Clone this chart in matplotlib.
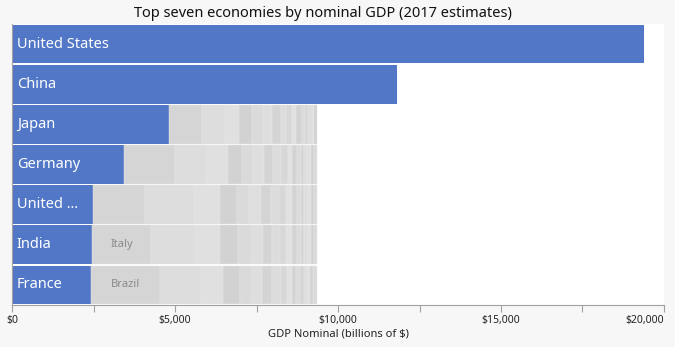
import matplotlib
matplotlib.use('Agg')
import matplotlib.pyplot as plt
from matplotlib.ticker import MultipleLocator

plt.rcParams['font.family'] = ['Noto Sans', 'DejaVu Sans']

# 国家与名义GDP（十亿美元）
countries = ['United States', 'China', 'Japan', 'Germany', 'United Kingdom', 'India', 'France']
gdp = [19390, 11800, 4830, 3420, 2485, 2455, 2415]

# 每行后面灰色堆叠的其他经济体
others_japan = [1012, 706, 429, 399, 328, 276, 276, 153, 193, 123, 166, 101, 101, 104, 71, 83]
others_germany = [1574, 982, 635, 429, 359, 316, 285, 258, 193, 153, 144, 110, 104, 101, 101, 104, 92]
others_uk = [1604, 1494, 798, 512, 368, 368, 307, 245, 224, 184, 153, 123, 101, 104, 101, 83, 92]
others_india = [1801, 1359, 767, 561, 411, 337, 276, 264, 184, 184, 144, 123, 101, 104, 101, 83, 92]
others_france = [2126, 1248, 675, 531, 359, 316, 316, 258, 184, 153, 141, 113, 113, 92, 101, 101, 104]
others = [[], [], others_japan, others_germany, others_uk, others_india, others_france]

# 灰色段里标出名字的国家
seg_labels = {5: 'Italy', 6: 'Brazil'}

xticks = [0, 5000, 10000, 15000, 20000]
xtick_labels = ['$0', '$5,000', '$10,000', '$15,000', '$20,000']

blue = '#5177c6'
greys = ['#d5d5d5', '#dddddd', '#e0e0e0', '#d2d2d2', '#dadada', '#dedede',
         '#d4d4d4', '#dcdcdc', '#d7d7d7', '#e1e1e1', '#d3d3d3', '#dbdbdb']

fig = plt.figure(figsize=(6.75, 3.47), dpi=100, facecolor='#f7f7f7')
ax = fig.add_axes([0.0178, 0.121, 0.9659, 0.810])
ax.set_facecolor('white')

h = 0.965
for i, (name, val) in enumerate(zip(countries, gdp)):
    ax.barh(i, val, height=h, color=blue, edgecolor='none')
    left = val
    for j, v in enumerate(others[i]):
        ax.barh(i, v, left=left, height=h, color=greys[j % len(greys)],
                edgecolor='#e8e8e8', linewidth=0.3)
        if j == 0 and i in seg_labels:
            ax.text(left + v / 2, i, seg_labels[i], ha='center', va='center',
                    fontsize=8, color='#8a8a8a')
        left += v
    ax.text(150, i, name if len(name) < 14 else 'United ...', ha='left', va='center',
            fontsize=10.5, color='white')

ax.set_xlim(0, 20000)
ax.set_ylim(6.5, -0.5)
ax.set_yticks([])
ax.set_xticks(xticks, xtick_labels)
ax.xaxis.set_minor_locator(MultipleLocator(2500))
ax.tick_params(axis='x', which='both', colors='#a0a0a0', labelcolor='#222222',
               labelsize=7.5, length=5, width=0.8, pad=2)
# 最后一个刻度标签右对齐，避免出界
ax.get_xticklabels()[-1].set_horizontalalignment('right')
ax.get_xticklabels()[-1].set_x(20000)
for s in ['top', 'right']:
    ax.spines[s].set_visible(False)
ax.spines['left'].set_color('#a0a0a0')
ax.spines['bottom'].set_color('#a0a0a0')
ax.set_xlabel('GDP Nominal (billions of $)', fontsize=8, color='#222222', labelpad=2)

fig.text(0.478, 0.962, 'Top seven economies by nominal GDP (2017 estimates)',
         ha='center', va='center', fontsize=10.5, color='#111111')

fig.savefig('out.png', dpi=100, facecolor=fig.get_facecolor())
